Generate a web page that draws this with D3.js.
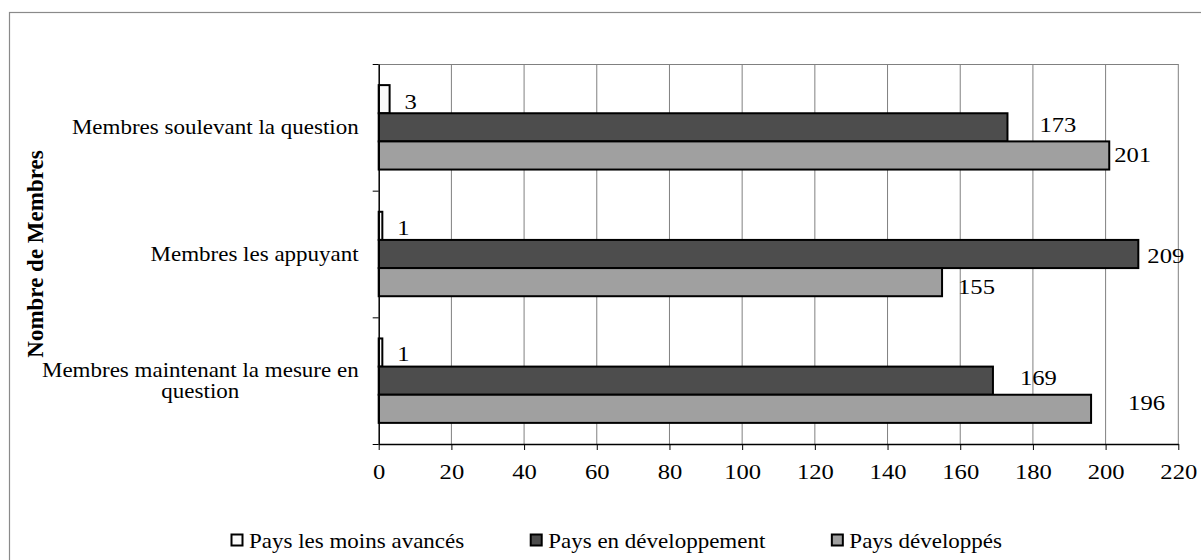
<!DOCTYPE html>
<html>
<head>
<meta charset="utf-8">
<script src="https://cdn.jsdelivr.net/npm/d3@7"></script>
<style>
  html, body { margin: 0; padding: 0; background: #fff; }
  svg { display: block; }
  text { font-family: "Liberation Serif", "Times New Roman", serif; fill: #000; }
</style>
</head>
<body>
<svg id="chart" width="1201" height="560"></svg>
<script>
// ---- data ----
const categories = [
  "Membres soulevant la question",
  "Membres les appuyant",
  "Membres maintenant la mesure en question"
];
const seriesNames = ["Pays les moins avancés", "Pays en développement", "Pays développés"];
const paysMoinsAvances = [3, 1, 1];
const paysEnDeveloppement = [173, 209, 169];
const paysDeveloppes = [201, 155, 196];
const xTickValues = [0, 20, 40, 60, 80, 100, 120, 140, 160, 180, 200, 220];
const axisTitle = "Nombre de Membres";

// ---- layout / style ----
const seriesFill = ["#fafafa", "#4d4d4d", "#a0a0a0"];
// hand-placed label offsets [dx from bar end, dy from bar centre], per category then per series
const labelNudge = [
  [[15, 10], [32, 4.5], [5, 6.5]],
  [[15, 9], [9, 9], [16, 12]],
  [[15, 8.5], [27, 4], [37, 1.5]]
];
const plot = { left: 378.7, right: 1178.3, top: 64, bottom: 444 };
const SX = 1.15;   // horizontal glyph stretch used for category/legend text
const SXN = 1.12;  // same for numerals

const values = [paysMoinsAvances, paysEnDeveloppement, paysDeveloppes];
const svg = d3.select("#chart");

// outer chart border (extends past the canvas on the right and bottom)
svg.append("rect")
  .attr("x", 9.5).attr("y", 12.5)
  .attr("width", 1400).attr("height", 800)
  .attr("fill", "none").attr("stroke", "#8a8a8a").attr("stroke-width", 1.2);

const x = d3.scaleLinear().domain([0, 220]).range([plot.left, plot.right]);
const y = d3.scaleBand().domain(categories).range([plot.top, plot.bottom]).padding(0);
const ySeries = d3.scaleBand().domain(seriesNames).range([0, y.bandwidth()])
  .paddingInner(0).paddingOuter(0.75);

// vertical gridlines
svg.append("g").selectAll("line")
  .data(xTickValues.filter(v => v > 0))
  .join("line")
  .attr("x1", d => x(d)).attr("x2", d => x(d))
  .attr("y1", plot.top).attr("y2", plot.bottom)
  .attr("stroke", "#808080").attr("stroke-width", 1);
// plot area top edge
svg.append("line")
  .attr("x1", plot.left).attr("x2", plot.right)
  .attr("y1", plot.top + 0.5).attr("y2", plot.top + 0.5)
  .attr("stroke", "#808080").attr("stroke-width", 1);

// bars
const rows = [];
categories.forEach((c, ci) => {
  seriesNames.forEach((s, si) => {
    rows.push({ cat: c, ci, series: s, si, value: values[si][ci] });
  });
});

svg.append("g").selectAll("rect")
  .data(rows)
  .join("rect")
  .attr("x", x(0))
  .attr("y", d => y(d.cat) + ySeries(d.series))
  .attr("width", d => x(d.value) - x(0))
  .attr("height", ySeries.bandwidth())
  .attr("fill", d => seriesFill[d.si])
  .attr("stroke", "#000")
  .attr("stroke-width", 2);

// value labels
svg.append("g").selectAll("text")
  .data(rows)
  .join("text")
  .attr("transform", d => {
    const n = labelNudge[d.ci][d.si];
    const tx = x(d.value) + n[0];
    const ty = y(d.cat) + ySeries(d.series) + ySeries.bandwidth() / 2 + n[1];
    return `translate(${tx},${ty}) scale(${SXN},1)`;
  })
  .attr("font-size", 22)
  .text(d => d.value);

// bottom axis
const xAxis = svg.append("g")
  .attr("transform", `translate(0,${plot.bottom})`)
  .call(d3.axisBottom(x).tickValues(xTickValues).tickSize(6).tickSizeOuter(0));
xAxis.attr("font-family", null).attr("font-size", null);
xAxis.select(".domain").attr("stroke", "#000").attr("stroke-width", 1.5);
xAxis.selectAll(".tick line").attr("stroke", "#000").attr("stroke-width", 1);
xAxis.selectAll(".tick text")
  .attr("y", 0).attr("dy", 0)
  .attr("transform", `translate(0,35) scale(${SXN},1)`)
  .attr("font-size", 22)
  .attr("fill", "#000");

// left axis: ticks on category boundaries
const yBound = d3.scaleLinear().domain([0, categories.length]).range([plot.top, plot.bottom]);
const yAxis = svg.append("g")
  .attr("transform", `translate(${plot.left},0)`)
  .call(d3.axisLeft(yBound).tickValues(d3.range(categories.length + 1)).tickFormat("").tickSize(6).tickSizeOuter(0));
yAxis.select(".domain").attr("stroke", "#000").attr("stroke-width", 1.5);
yAxis.selectAll(".tick line").attr("stroke", "#000").attr("stroke-width", 1);

// category labels (wrapped, block right-aligned, lines centred)
const labelRight = plot.left - 20;
const maxLabelWidth = 320;
const catG = svg.append("g");
categories.forEach(c => {
  const probe = catG.append("text").attr("font-size", 20);
  const words = c.split(" ");
  const lines = [];
  let line = [];
  words.forEach(w => {
    const trial = line.concat(w).join(" ");
    probe.text(trial);
    if (probe.node().getComputedTextLength() * SX > maxLabelWidth && line.length) {
      lines.push(line.join(" "));
      line = [w];
    } else {
      line.push(w);
    }
  });
  lines.push(line.join(" "));
  const widths = lines.map(l => { probe.text(l); return probe.node().getComputedTextLength() * SX; });
  probe.remove();
  const blockW = d3.max(widths);
  const cx = labelRight - blockW / 2;
  const lineH = 21;
  const cy = y(c) + y.bandwidth() / 2;
  const firstBase = cy + 7 - (lines.length - 1) * lineH / 2 - (lines.length > 1 ? 0.5 : 0);
  lines.forEach((l, i) => {
    catG.append("text")
      .attr("font-size", 20)
      .attr("text-anchor", "middle")
      .attr("transform", `translate(${cx},${firstBase + i * lineH}) scale(${SX},1)`)
      .text(l);
  });
});

// axis title
svg.append("text")
  .attr("transform", `translate(43,${(plot.top + plot.bottom) / 2}) rotate(-90)`)
  .attr("text-anchor", "middle")
  .attr("font-size", 23)
  .attr("font-weight", "bold")
  .text(axisTitle);

// legend
const legend = svg.append("g");
let lx = 231;
const legendBase = 548;
seriesNames.forEach((s, i) => {
  legend.append("rect")
    .attr("x", lx + 0.5).attr("y", legendBase - 13.5)
    .attr("width", 11).attr("height", 11)
    .attr("fill", seriesFill[i]).attr("stroke", "#000").attr("stroke-width", 2);
  const t = legend.append("text")
    .attr("font-size", 20)
    .attr("transform", `translate(${lx + 18},${legendBase}) scale(${SX},1)`)
    .text(s);
  const w = t.node().getComputedTextLength() * SX;
  lx = lx + 18 + w + 66;
});
</script>
</body>
</html>
